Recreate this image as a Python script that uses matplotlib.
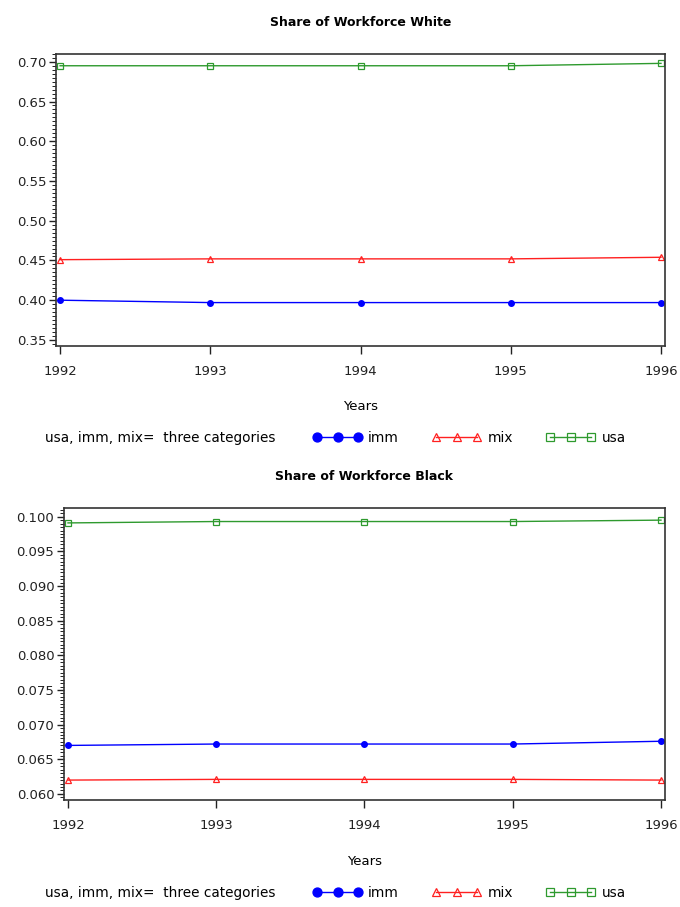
import matplotlib
matplotlib.use("Agg")
import matplotlib.pyplot as plt
from matplotlib.ticker import MultipleLocator, FormatStrFormatter

plt.rcParams['font.family'] = ['DejaVu Sans']

years = [1992, 1993, 1994, 1995, 1996]

white_imm = [0.400, 0.397, 0.397, 0.397, 0.397]
white_mix = [0.451, 0.452, 0.452, 0.452, 0.454]
white_usa = [0.695, 0.695, 0.695, 0.695, 0.698]

black_imm = [0.0670, 0.0672, 0.0672, 0.0672, 0.0676]
black_mix = [0.0620, 0.0621, 0.0621, 0.0621, 0.0620]
black_usa = [0.0991, 0.0993, 0.0993, 0.0993, 0.0995]

titles = ["Share of Workforce White", "Share of Workforce Black"]
xlabel = "Years"
legend_title = "usa, imm, mix=  three categories"

BLUE = '#0000ff'
RED = '#ff2020'
GREEN = '#2e9a2e'

fig = plt.figure(figsize=(6.8, 9.07), dpi=100)

panels = [
    dict(rect=[0.0824, 0.6189, 0.8956, 0.3221], imm=white_imm, mix=white_mix, usa=white_usa,
         ylim=(0.3428, 0.7104), major=0.05, minor=0.005, fmt='%.2f', title=titles[0]),
    dict(rect=[0.0941, 0.1180, 0.8838, 0.3219], imm=black_imm, mix=black_mix, usa=black_usa,
         ylim=(0.05913, 0.10125), major=0.005, minor=0.0005, fmt='%.3f', title=titles[1]),
]

leg_y_px = [438, 893]

for i, p in enumerate(panels):
    ax = fig.add_axes(p['rect'])
    h1, = ax.plot(years, p['imm'], color=BLUE, lw=1.0, marker='o', ms=4, mfc=BLUE, mec=BLUE, label='imm')
    h2, = ax.plot(years, p['mix'], color=RED, lw=1.0, marker='^', ms=4, mfc='none', mec=RED, mew=0.9, label='mix')
    h3, = ax.plot(years, p['usa'], color=GREEN, lw=1.0, marker='s', ms=4, mfc='none', mec=GREEN, mew=0.9, label='usa')
    ax.set_xlim(1991.973, 1996.027)
    ax.set_ylim(*p['ylim'])
    ax.set_xticks(years)
    ax.yaxis.set_major_locator(MultipleLocator(p['major']))
    ax.yaxis.set_minor_locator(MultipleLocator(p['minor']))
    ax.yaxis.set_major_formatter(FormatStrFormatter(p['fmt']))
    ax.tick_params(axis='both', direction='out', labelsize=9.5, colors='#222222', width=1.0)
    ax.tick_params(axis='y', which='major', length=5, pad=2)
    ax.tick_params(axis='y', which='minor', length=3)
    ax.tick_params(axis='x', which='major', length=6, pad=8)
    for s in ax.spines.values():
        s.set_linewidth(1.2)
        s.set_color('#333333')
    ax.set_xlabel(xlabel, fontsize=9.5, labelpad=16)
    ax.set_title(p['title'], fontsize=9, fontweight='bold', pad=20)

    fy = 1 - leg_y_px[i] / 907
    fig.text(45 / 680, fy, legend_title, fontsize=9.8, ha='left', va='center')
    fig.legend(handles=[h1, h2, h3], ncol=3, loc='center left',
               bbox_to_anchor=(313 / 680, fy), frameon=False, numpoints=3,
               handlelength=3.6, columnspacing=2.45, handletextpad=0.45,
               markerscale=1.6, fontsize=9.8, borderpad=0, borderaxespad=0)

fig.savefig('out.png', dpi=100)
